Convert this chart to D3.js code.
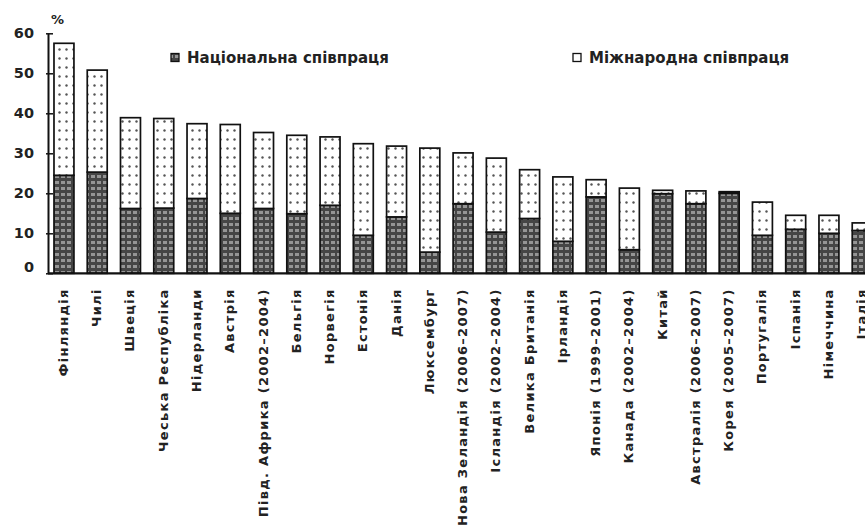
<!DOCTYPE html>
<html>
<head>
<meta charset="utf-8">
<script src="https://cdn.jsdelivr.net/npm/d3@7"></script>
<style>
  html, body { margin: 0; padding: 0; background: #fff; }
  svg { display: block; }
  text { font-family: "DejaVu Sans", sans-serif; font-weight: bold; fill: #222; }
</style>
</head>
<body>
<svg id="chart" width="865" height="527"></svg>
<script>
// ---- data ----
const categories = [
  "Фінляндія", "Чилі", "Швеція", "Чеська Республіка", "Нідерланди", "Австрія",
  "Півд. Африка (2002–2004)", "Бельгія", "Норвегія", "Естонія", "Данія",
  "Люксембург", "Нова Зеландія (2006–2007)", "Ісландія (2002–2004)",
  "Велика Британія", "Ірландія", "Японія (1999–2001)", "Канада (2002–2004)",
  "Китай", "Австралія (2006–2007)", "Корея (2005–2007)", "Португалія",
  "Іспанія", "Німеччина", "Італія"
];
const national = [
  24.5, 25.3, 16.2, 16.3, 18.7, 15.0, 16.2, 14.9, 17.0, 9.5, 14.1,
  5.3, 17.4, 10.3, 13.7, 8.0, 19.1, 5.9, 19.9, 17.4, 20.0, 9.5,
  11.0, 10.0, 10.7
];
const international = [
  33.0, 25.5, 22.7, 22.4, 18.7, 22.2, 19.0, 19.6, 17.1, 22.9, 17.7,
  26.0, 12.7, 18.5, 12.2, 16.1, 4.3, 15.4, 0.85, 3.2, 0.4, 8.3,
  3.5, 4.5, 1.9
];
const seriesNames = ["Національна співпраця", "Міжнародна співпраця"];
const yTicks = [0, 10, 20, 30, 40, 50, 60];
const yUnit = "%";

// ---- layout ----
const svg = d3.select("#chart");
const axisX = 48, yTop = 33.3, yBase = 273.3;

const y = d3.scaleLinear().domain([0, 60]).range([yBase, yTop]);
const x = d3.scaleBand().domain(categories)
  .range([axisX, axisX + 24.96 * 33.26])
  .paddingInner(0.4).paddingOuter(0.18);

// patterns
const defs = svg.append("defs");
const pn = defs.append("pattern").attr("id", "patNat")
  .attr("patternUnits", "userSpaceOnUse").attr("width", 6).attr("height", 6);
pn.append("rect").attr("width", 6).attr("height", 6).attr("fill", "#454545");
pn.append("rect").attr("x", 1).attr("y", 1).attr("width", 4).attr("height", 3).attr("fill", "#959595");

const pi = defs.append("pattern").attr("id", "patInt")
  .attr("patternUnits", "userSpaceOnUse").attr("width", 7).attr("height", 9);
pi.append("rect").attr("width", 7).attr("height", 9).attr("fill", "#fff");
pi.append("circle").attr("cx", 3.5).attr("cy", 4.5).attr("r", 1.2).attr("fill", "#555");

const clip = defs.append("clipPath").attr("id", "clipArea");
clip.append("rect").attr("x", 0).attr("y", 0).attr("width", 865).attr("height", 527);

const stackData = categories.map((c, i) => ({ c, nat: national[i], intl: international[i] }));

const g = svg.append("g").attr("clip-path", "url(#clipArea)");

// national segment
g.selectAll("rect.nat").data(stackData).join("rect")
  .attr("class", "nat")
  .attr("x", d => x(d.c))
  .attr("width", x.bandwidth())
  .attr("y", d => y(d.nat))
  .attr("height", d => y(0) - y(d.nat))
  .attr("fill", "url(#patNat)")
  .attr("stroke", "#111").attr("stroke-width", 1.7);

// international segment
g.selectAll("rect.intl").data(stackData).join("rect")
  .attr("class", "intl")
  .attr("x", d => x(d.c))
  .attr("width", x.bandwidth())
  .attr("y", d => y(d.nat + d.intl))
  .attr("height", d => y(d.nat) - y(d.nat + d.intl))
  .attr("fill", "url(#patInt)")
  .attr("stroke", "#111").attr("stroke-width", 1.7);

// y axis
const yAxis = d3.axisLeft(y).tickValues(yTicks).tickSize(0).tickPadding(14);
const ya = svg.append("g").attr("transform", `translate(${axisX},0)`).call(yAxis);
ya.select(".domain").attr("stroke", "#111").attr("stroke-width", 2);
ya.selectAll(".tick text").attr("font-size", 14.5).attr("fill", "#222")
  .style("font-family", "DejaVu Sans").style("font-weight", "bold");
ya.selectAll(".tick").filter(d => d === 0).select("text").attr("dy", "-0.1em");
ya.selectAll(".tick").append("line")
  .attr("x1", -2).attr("x2", 5).attr("y1", 0).attr("y2", 0)
  .attr("stroke", "#111").attr("stroke-width", 1.5);

svg.append("text").attr("x", 51).attr("y", 24)
  .attr("font-size", 13).text(yUnit);

// x axis baseline
svg.append("line").attr("x1", axisX).attr("x2", 865)
  .attr("y1", y(0)).attr("y2", y(0))
  .attr("stroke", "#111").attr("stroke-width", 2.2);

// category labels
svg.selectAll("text.cat").data(categories).join("text")
  .attr("class", "cat")
  .attr("transform", d => `translate(${x(d) + x.bandwidth() / 2 + 4},${y(0) + 15}) rotate(-90)`)
  .attr("text-anchor", "end")
  .attr("font-size", 13)
  .style("letter-spacing", "1.3px")
  .text(d => d);

// legend
const legendPos = [[171, 58], [573, 58]];
const legendFill = ["url(#patNat)", "#fff"];
seriesNames.forEach((name, i) => {
  const [lx, ly] = legendPos[i];
  svg.append("rect").attr("x", lx).attr("y", ly - 4.5).attr("width", 8).attr("height", 8)
    .attr("fill", legendFill[i]).attr("stroke", "#111").attr("stroke-width", 1.3);
  svg.append("text").attr("x", lx + 16).attr("y", ly + 5)
    .attr("font-size", 15).text(name);
});
</script>
</body>
</html>
